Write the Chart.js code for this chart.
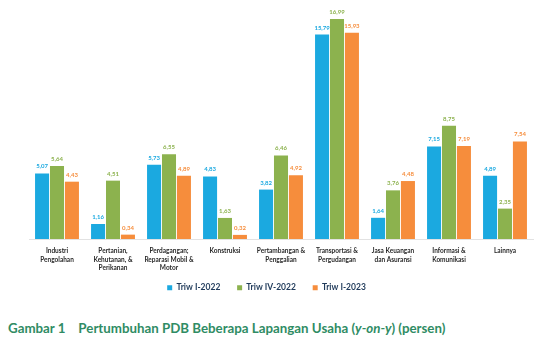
<!DOCTYPE html>
<html>
<head>
<meta charset="utf-8">
<script src="https://cdn.jsdelivr.net/npm/chart.js@4.4.1/dist/chart.umd.min.js"></script>
<style>
  body { margin: 0; background: #fff; width: 537px; height: 360px; overflow: hidden; }
  #wrap { position: absolute; left: 0; top: 0; width: 537px; height: 302px; }
  #caption {
    position: absolute; left: 8px; top: 320px;
    font-family: Lato, sans-serif; font-weight: bold; font-size: 13.3px; color: #2f8c64;
    white-space: pre;
  }
</style>
</head>
<body>
<div id="wrap"><canvas id="grafik"></canvas></div>
<div id="caption">Gambar 1    Pertumbuhan PDB Beberapa Lapangan Usaha (<i>y-on-y</i>) (persen)</div>
<script>
const kategori = [
    ["Industri", "Pengolahan"],
    ["Pertanian,", "Kehutanan, &", "Perikanan"],
    ["Perdagangan;", "Reparasi Mobil &", "Motor"],
    ["Konstruksi"],
    ["Pertambangan &", "Penggalian"],
    ["Transportasi &", "Pergudangan"],
    ["Jasa Keuangan", "dan Asuransi"],
    ["Informasi &", "Komunikasi"],
    ["Lainnya"]
];

const triwI2022 = [5.07, 1.16, 5.73, 4.83, 3.82, 15.79, 1.64, 7.15, 4.89];
const triwIV2022 = [5.64, 4.51, 6.55, 1.63, 6.46, 16.99, 3.76, 8.75, 2.35];
const triwI2023 = [4.43, 0.34, 4.89, 0.32, 4.92, 15.93, 4.48, 7.19, 7.54];

const cores = ["#1ba9e0", "#8cb24e", "#f68d3c"];

// tulis angka di atas batang
const labelNilai = {
    id: "labelNilai",
    afterDatasetsDraw(chart) {
        const c = chart.ctx;
        c.save();
        c.font = "bold 6px Lato, sans-serif";
        c.textAlign = "center";
        c.textBaseline = "bottom";
        chart.data.datasets.forEach((ds, i) => {
            const meta = chart.getDatasetMeta(i);
            c.fillStyle = ds.backgroundColor;
            meta.data.forEach((bar, j) => {
                const teks = ds.data[j].toFixed(2).replace(".", ",");
                c.fillText(teks, bar.x, bar.y - 4);
            });
        });
        c.restore();
    }
};

new Chart(document.getElementById("grafik"), {
    type: "bar",
    data: {
        labels: kategori,
        datasets: [
            { label: "Triw I-2022", data: triwI2022, backgroundColor: cores[0] },
            { label: "Triw IV-2022", data: triwIV2022, backgroundColor: cores[1] },
            { label: "Triw I-2023", data: triwI2023, backgroundColor: cores[2] }
        ]
    },
    options: {
        responsive: true,
        maintainAspectRatio: false,
        animation: false,
        layout: { padding: { left: 0, right: 4, top: 6, bottom: 0 } },
        datasets: { bar: { categoryPercentage: 0.8, barPercentage: 0.94 } },
        plugins: {
            legend: {
                position: "bottom",
                labels: {
                    boxWidth: 5, boxHeight: 5, padding: 11.5,
                    color: "#1f3a5a",
                    font: { family: "Lato", weight: "bold", size: 8.5 },
                    generateLabels(chart) {
                        const items = Chart.defaults.plugins.legend.labels.generateLabels(chart);
                        // jarak antar item legenda lebih lebar
                        items.forEach((it, i) => {
                            if (i < items.length - 1) it.text = it.text + "\u2002\u2009";
                        });
                        return items;
                    }
                }
            },
            tooltip: { enabled: false }
        },
        scales: {
            x: {
                grid: { display: false },
                border: { color: "#e2e2e2" },
                ticks: {
                    maxRotation: 0, autoSkip: false, padding: 0,
                    color: "#2a2a2a",
                    font: { family: "Lato", weight: "bold", size: 6.5, lineHeight: 1.28 }
                }
            },
            y: {
                min: 0, max: 18,
                grid: { display: false },
                border: { display: false },
                ticks: { display: false },
                // sumbu y tak terlihat, hanya memberi ruang kiri
                afterFit(scale) { scale.width = 29; }
            }
        }
    },
    plugins: [labelNilai]
});
</script>
</body>
</html>
